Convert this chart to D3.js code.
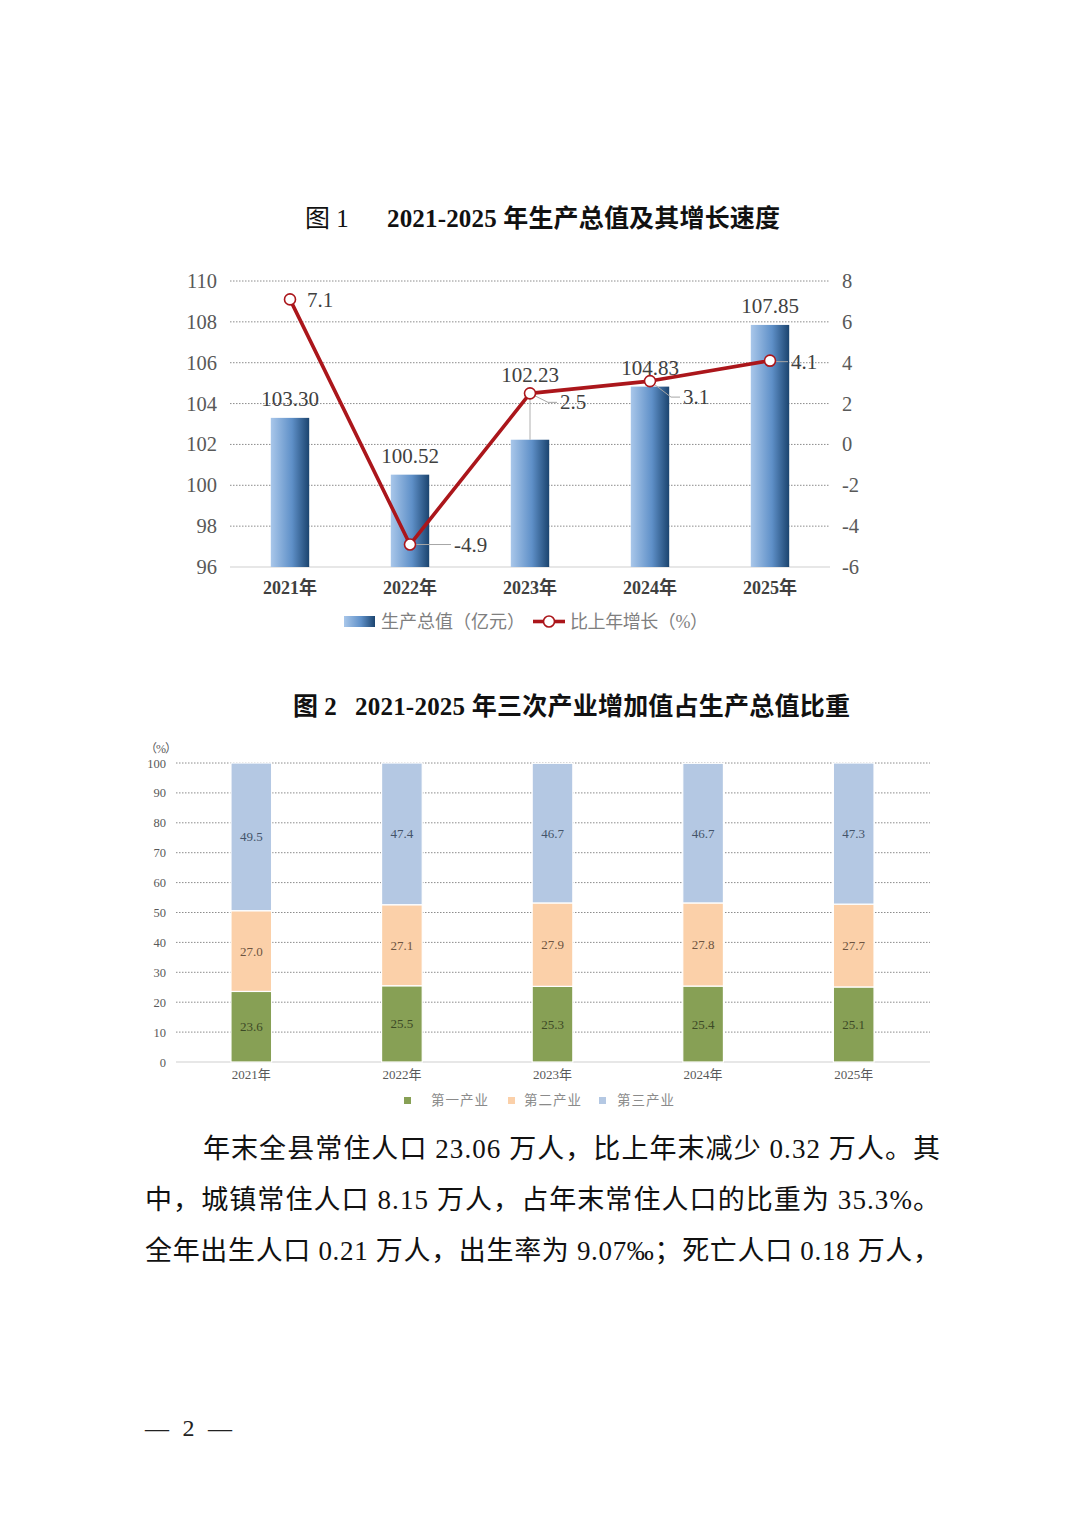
<!DOCTYPE html>
<html><head><meta charset="utf-8">
<script src="https://cdn.jsdelivr.net/npm/d3@7"></script>
<style>
html,body{margin:0;padding:0;background:#fff;}
svg{display:block;}
text{font-family:"Liberation Serif","Noto Sans CJK SC",serif;}
</style></head>
<body>
<script>
// ---------- data ----------
const years = ["2021年","2022年","2023年","2024年","2025年"];
const gdp = [103.30, 100.52, 102.23, 104.83, 107.85];
const growth = [7.1, -4.9, 2.5, 3.1, 4.1];
const gdpTicks = [96, 98, 100, 102, 104, 106, 108, 110];
const growthTicks = [-6, -4, -2, 0, 2, 4, 6, 8];
const industries = ["第一产业", "第二产业", "第三产业"];
const primary = [23.6, 25.5, 25.3, 25.4, 25.1];
const secondary = [27.0, 27.1, 27.9, 27.8, 27.7];
const tertiary = [49.5, 47.4, 46.7, 46.7, 47.3];
const pctTicks = [0, 10, 20, 30, 40, 50, 60, 70, 80, 90, 100];
const title1a = "图 1", title1b = "2021-2025 年生产总值及其增长速度";
const title2a = "图 2", title2b = "2021-2025 年三次产业增加值占生产总值比重";
const legend1 = ["生产总值（亿元）", "比上年增长（%）"];
const paragraph = [
  "年末全县常住人口 23.06 万人，比上年末减少 0.32 万人。其",
  "中，城镇常住人口 8.15 万人，占年末常住人口的比重为 35.3%。",
  "全年出生人口 0.21 万人，出生率为 9.07‰；死亡人口 0.18 万人，"
];
const pageNo = "— 2 —";

// ---------- layout ----------
const W = 1074, H = 1520;
const svg = d3.select("body").append("svg").attr("width", W).attr("height", H);
svg.append("rect").attr("width", W).attr("height", H).attr("fill", "#fff");
const defs = svg.append("defs");
const grad = defs.append("linearGradient").attr("id", "barGrad").attr("x1", "0").attr("x2", "1").attr("y1", "0").attr("y2", "0");
grad.append("stop").attr("offset", "0").attr("stop-color", "#a9c7ea");
grad.append("stop").attr("offset", "0.55").attr("stop-color", "#5f90c8");
grad.append("stop").attr("offset", "1").attr("stop-color", "#1b446f");

// ---------- chart 1 ----------
const t1 = svg.append("text").attr("x", 305).attr("y", 227).attr("font-size", 25).attr("fill", "#111");
t1.append("tspan").text(title1a);
t1.append("tspan").attr("x", 387).attr("font-weight", "bold").attr("textLength", 393).attr("lengthAdjust", "spacing").text(title1b);

const x1 = d3.scaleBand().domain(years).range([230, 830]).paddingInner(0.68).paddingOuter(0.34);
const yL = d3.scaleLinear().domain([96, 110]).range([567, 281]);
const yR = d3.scaleLinear().domain([-6, 8]).range([567, 281]);
const c1 = svg.append("g");

// grid
c1.append("g").selectAll("line").data(gdpTicks.filter(d => d > 96)).join("line")
  .attr("x1", 230).attr("x2", 830).attr("y1", d => yL(d)).attr("y2", d => yL(d))
  .attr("stroke", "#8c8c8c").attr("stroke-width", 1).attr("stroke-dasharray", "1.5,1.5");
c1.append("line").attr("x1", 230).attr("x2", 830).attr("y1", yL(96)).attr("y2", yL(96))
  .attr("stroke", "#d0d0d0").attr("stroke-width", 1.2);

// axes
const axL = d3.axisLeft(yL).tickValues(gdpTicks).tickSize(0).tickPadding(13).tickFormat(d3.format("d"));
const gL = c1.append("g").attr("transform", "translate(230,0)").call(axL);
gL.select(".domain").remove();
gL.selectAll("text").attr("font-size", 20.5).attr("fill", "#595959").attr("font-family", "Liberation Serif");
const axR = d3.axisRight(yR).tickValues(growthTicks).tickSize(0).tickPadding(12).tickFormat(d => String(d));
const gR = c1.append("g").attr("transform", "translate(830,0)").call(axR);
gR.select(".domain").remove();
gR.selectAll("text").attr("font-size", 20.5).attr("fill", "#595959").attr("font-family", "Liberation Serif");
const axB = d3.axisBottom(x1).tickSize(0).tickPadding(14);
const gB = c1.append("g").attr("transform", `translate(0,${yL(96)})`).call(axB);
gB.select(".domain").remove();
gB.selectAll("text").attr("font-size", 18).attr("font-weight", "bold").attr("fill", "#404040")
  .attr("font-family", "Liberation Serif,Noto Sans CJK SC");

// bars
c1.append("g").selectAll("rect").data(gdp).join("rect")
  .attr("x", (d, i) => x1(years[i])).attr("width", x1.bandwidth())
  .attr("y", d => yL(d)).attr("height", d => yL(96) - yL(d))
  .attr("fill", "url(#barGrad)");

// bar labels (2023 label lifted above the line, with leader)
const barLabelLift = [0, 0, 46, 0, 0];
const cx1 = i => x1(years[i]) + x1.bandwidth() / 2;
c1.append("g").selectAll("line").data(gdp.map((d, i) => i).filter(i => barLabelLift[i] > 0)).join("line")
  .attr("x1", i => cx1(i)).attr("x2", i => cx1(i))
  .attr("y1", i => yL(gdp[i])).attr("y2", i => yL(gdp[i]) - barLabelLift[i] + 4)
  .attr("stroke", "#b0b0b0").attr("stroke-width", 1);
c1.append("g").selectAll("text").data(gdp).join("text")
  .attr("x", (d, i) => cx1(i)).attr("y", (d, i) => yL(d) - 12 - barLabelLift[i])
  .attr("text-anchor", "middle").attr("font-size", 21).attr("fill", "#404040")
  .text(d => d.toFixed(2));

// line
const line = d3.line().x((d, i) => cx1(i)).y(d => yR(d));
c1.append("path").datum(growth).attr("d", line).attr("fill", "none")
  .attr("stroke", "#ab161b").attr("stroke-width", 3.6).attr("stroke-linejoin", "round");

// growth labels with leaders: [dx, dy] label offsets, leader flag
const gOff = [[17, 8, false], [44, 7, true], [30, 16, true], [33, 23, true], [21, 8, true]];
const lead = c1.append("g");
growth.forEach((d, i) => {
  const px = cx1(i), py = yR(d), o = gOff[i];
  if (o[2]) {
    const ly = py + o[1] - 7;
    lead.append("polyline")
      .attr("points", `${px},${py} ${px + o[0] - 12},${ly} ${px + o[0] - 3},${ly}`)
      .attr("fill", "none").attr("stroke", "#a6a6a6").attr("stroke-width", 1);
  }
});
c1.append("g").selectAll("circle").data(growth).join("circle")
  .attr("cx", (d, i) => cx1(i)).attr("cy", d => yR(d)).attr("r", 5.5)
  .attr("fill", "#fff").attr("stroke", "#ab161b").attr("stroke-width", 1.6);
c1.append("g").selectAll("text").data(growth).join("text")
  .attr("x", (d, i) => cx1(i) + gOff[i][0]).attr("y", (d, i) => yR(d) + gOff[i][1])
  .attr("font-size", 21).attr("fill", "#404040").text(d => d.toFixed(1));

// legend 1
const lg1 = svg.append("g");
lg1.append("rect").attr("x", 344).attr("y", 616).attr("width", 31).attr("height", 11).attr("fill", "url(#barGrad)");
lg1.append("text").attr("x", 381).attr("y", 628).attr("font-size", 18).attr("fill", "#7f7f7f")
  .attr("font-family", "Noto Sans CJK SC").attr("textLength", 144).attr("lengthAdjust", "spacing").text(legend1[0]);
lg1.append("line").attr("x1", 533).attr("x2", 565).attr("y1", 621.5).attr("y2", 621.5)
  .attr("stroke", "#ab161b").attr("stroke-width", 3.6);
lg1.append("circle").attr("cx", 549).attr("cy", 621.5).attr("r", 5.5).attr("fill", "#fff")
  .attr("stroke", "#ab161b").attr("stroke-width", 1.6);
lg1.append("text").attr("x", 570).attr("y", 628).attr("font-size", 18).attr("fill", "#7f7f7f")
  .attr("font-family", "Noto Sans CJK SC").attr("textLength", 138).attr("lengthAdjust", "spacing").text(legend1[1]);

// ---------- chart 2 ----------
const t2 = svg.append("text").attr("x", 293).attr("y", 715).attr("font-size", 25).attr("font-weight", "bold").attr("fill", "#111");
t2.append("tspan").text(title2a);
t2.append("tspan").attr("x", 355).attr("textLength", 495).attr("lengthAdjust", "spacing").text(title2b);

const x2 = d3.scaleBand().domain(years).range([176, 929]).paddingInner(0.73).paddingOuter(0.365);
const y2 = d3.scaleLinear().domain([0, 100]).range([1062, 763]);
const c2 = svg.append("g");

c2.append("g").selectAll("line").data(pctTicks.filter(d => d > 0)).join("line")
  .attr("x1", 176).attr("x2", 930).attr("y1", d => y2(d)).attr("y2", d => y2(d))
  .attr("stroke", "#8c8c8c").attr("stroke-width", 1).attr("stroke-dasharray", "1.5,1.5");
c2.append("line").attr("x1", 176).attr("x2", 930).attr("y1", y2(0)).attr("y2", y2(0))
  .attr("stroke", "#d0d0d0").attr("stroke-width", 1.2);

const ax2L = d3.axisLeft(y2).tickValues(pctTicks).tickSize(0).tickPadding(10).tickFormat(d3.format("d"));
const g2L = c2.append("g").attr("transform", "translate(176,0)").call(ax2L);
g2L.select(".domain").remove();
g2L.selectAll("text").attr("font-size", 12.5).attr("fill", "#595959").attr("font-family", "Liberation Serif");
c2.append("text").attr("x", 145).attr("y", 753).attr("font-size", 12).attr("fill", "#595959")
  .attr("textLength", 32).attr("lengthAdjust", "spacing").text("（%）");

const ax2B = d3.axisBottom(x2).tickSize(0).tickPadding(8);
const g2B = c2.append("g").attr("transform", `translate(0,${y2(0)})`).call(ax2B);
g2B.select(".domain").remove();
g2B.selectAll("text").attr("font-size", 13).attr("fill", "#595959").attr("font-family", "Liberation Serif,Noto Sans CJK SC");

const rows = years.map((y, i) => ({ year: y, p: primary[i], s: secondary[i], t: tertiary[i] }));
const stack = d3.stack().keys(["p", "s", "t"]);
const series = stack(rows);
const segFill = ["#87a055", "#fbd0a9", "#b4c8e3"];
const segText = ["#3d4a26", "#6e5541", "#44546a"];
series.forEach((s, k) => {
  const g = c2.append("g");
  g.selectAll("rect").data(s).join("rect")
    .attr("x", d => x2(d.data.year)).attr("width", x2.bandwidth())
    .attr("y", d => y2(Math.min(d[1], 100))).attr("height", d => y2(d[0]) - y2(Math.min(d[1], 100)))
    .attr("fill", segFill[k]).attr("stroke", "#fff").attr("stroke-width", 1.2);
  g.selectAll("text").data(s).join("text")
    .attr("x", d => x2(d.data.year) + x2.bandwidth() / 2)
    .attr("y", d => y2((d[0] + Math.min(d[1], 100)) / 2) + 4.5)
    .attr("text-anchor", "middle").attr("font-size", 13).attr("fill", segText[k])
    .text(d => (d[1] - d[0]).toFixed(1));
});

// legend 2
const lg2x = [404, 508, 599];
const lg2t = [431, 524, 617];
const lg2 = svg.append("g");
industries.forEach((name, k) => {
  lg2.append("rect").attr("x", lg2x[k]).attr("y", 1097).attr("width", 7).attr("height", 7).attr("fill", segFill[k]);
  lg2.append("text").attr("x", lg2t[k]).attr("y", 1105).attr("font-size", 13.5).attr("fill", "#8a8a8a")
    .attr("font-family", "Noto Sans CJK SC").attr("letter-spacing", 1).text(name);
});

// ---------- paragraph ----------
const pStart = [203, 145, 145];
const pBase = [1158, 1209, 1260];
paragraph.forEach((t, i) => {
  svg.append("text").attr("x", pStart[i]).attr("y", pBase[i]).attr("font-size", 27).attr("fill", "#111")
    .attr("textLength", 940 - pStart[i]).attr("lengthAdjust", "spacing").text(t);
});
svg.append("text").attr("x", 145).attr("y", 1436).attr("font-size", 24).attr("fill", "#222")
  .attr("textLength", 87).attr("lengthAdjust", "spacing").text(pageNo);
</script>
</body></html>
